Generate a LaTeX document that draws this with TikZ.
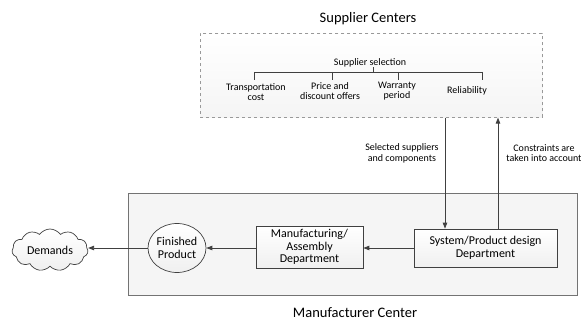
\documentclass[tikz,border=0pt]{standalone}
\usepackage{fontspec}
\setmainfont{Carlito}
\usetikzlibrary{shapes.geometric,shapes.symbols,arrows.meta}
\definecolor{ln}{HTML}{404040}
\tikzset{
  arr/.style={draw=ln, line width=0.8pt, -{Triangle[length=6pt,width=4.5pt]}},
  ln/.style={draw=ln, line width=0.7pt},
  boxfont/.style={font=\fontsize{12}{12.5}\selectfont},
  box/.style={draw=ln, line width=0.7pt, rectangle, align=center, boxfont, top color=white, bottom color=gray!12},
  small/.style={align=center, font=\fontsize{10}{10.8}\selectfont, inner sep=0pt},
  title/.style={font=\fontsize{14.5}{16}\selectfont, inner sep=0pt},
}
\begin{document}
\begin{tikzpicture}[x=1pt,y=-1pt]
\useasboundingbox (0,0) rectangle (581,321);
% containers
\node[draw=gray!80, dashed, line width=0.6pt, top color=white, bottom color=gray!8, minimum width=342pt, minimum height=84pt, anchor=north west, inner sep=0pt] (sup) at (200,33) {};
\node[draw=gray!90!black, line width=0.7pt, fill=gray!8, minimum width=449pt, minimum height=102pt, anchor=north west, inner sep=0pt] (man) at (128,193) {};
\node[title] (suptitle) at (368,19) {Supplier Centers};
\node[title] (mantitle) at (355,312.5) {Manufacturer Center};
% supplier selection tree
\node[small] (sel) at (370,63) {Supplier selection};
\node[small] (tc) at (256,92) {Transportation\\cost};
\node[small] (pd) at (330,91) {Price and\\discount offers};
\node[small] (wp) at (397,91) {Warranty\\period};
\node[small] (rel) at (467,91) {Reliability};
\coordinate (j0) at (373,72);
\coordinate (j1) at (254,72);
\coordinate (j2) at (332,72);
\coordinate (j3) at (398,72);
\coordinate (j4) at (482,72);
\draw[ln] (sel.south -| j0) -- (j0);
\draw[ln] (j1) -- (j4);
\draw[ln] (j1) -- ++(0,8);
\draw[ln] (j2) -- ++(0,8);
\draw[ln] (j3) -- ++(0,8);
\draw[ln] (j4) -- ++(0,8);
% manufacturer nodes
\node[box, minimum width=143pt, minimum height=38pt] (des) at (485.5,248) {System/Product design\\Department};
\node[box, minimum width=107pt, minimum height=42pt, inner sep=1pt] (mfg) at (309.5,247) {Manufacturing/\\Assembly\\Department};
\node[draw=ln, line width=0.7pt, ellipse, minimum width=58pt, minimum height=49pt, inner sep=0pt, align=center, top color=white, bottom color=gray!12, boxfont] (fp) at (177,248) {Finished\\Product};
\node[draw=ln, line width=0.7pt, cloud, cloud puffs=11, cloud puff arc=110, aspect=2, minimum width=76pt, minimum height=42pt, inner sep=0pt, top color=white, bottom color=gray!12, boxfont] (dem) at (50,250) {Demands};
% connectors
\coordinate (a) at (445,0);
\coordinate (b) at (498,0);
\draw[arr] (sup.south -| a) -- (des.north -| a);
\draw[arr] (des.north -| b) -- (sup.south -| b);
\draw[arr] (des.west) -- (mfg.east |- des.west);
\draw[arr] (mfg.west |- fp.east) -- (fp.east);
\draw[arr] (fp.west) -- (dem.east |- fp.west);
\node[small] (lsel) at (402,153) {Selected suppliers\\and components};
\node[small] (lcon) at (544,153) {Constraints are\\taken into account};
\end{tikzpicture}
\end{document}
